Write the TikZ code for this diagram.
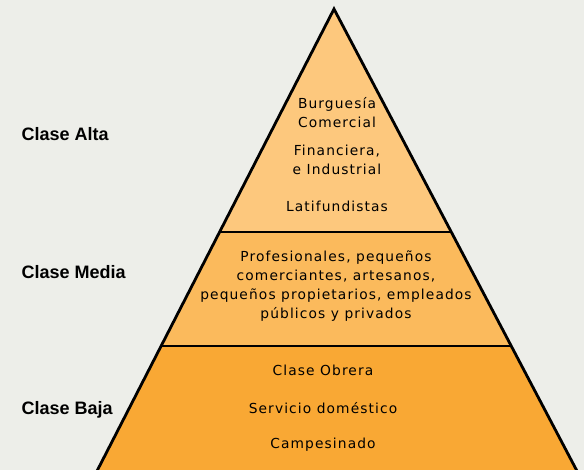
\documentclass[tikz,border=0pt]{standalone}
\usepackage{fontspec}
\setmainfont{Liberation Sans}
\newfontfamily\tierfont[LetterSpace=8]{DejaVu Sans}

\definecolor{bgcol}{RGB}{237,238,233}
\definecolor{altacol}{RGB}{253,200,125}
\definecolor{mediacol}{RGB}{251,186,92}
\definecolor{bajacol}{RGB}{249,168,52}

\tikzset{
  classlabel/.style={anchor=west, font=\fontsize{18}{21}\selectfont\bfseries},
  tiertext/.style={align=center, font=\tierfont\fontsize{13.8}{19}\selectfont}
}

\begin{document}
\begin{tikzpicture}
            [x=1pt, y=-1pt]
            % Background
            \fill[bgcol] (0,0) rectangle (584,470);
            \useasboundingbox (0,0) rectangle (584,470);

            % Corners of the pyramid
            \coordinate (apex) at (334,9);
            \coordinate (BL) at (97,471);
            \coordinate (BR) at (577,471);
            \coordinate (ML) at (219.4,232);
            \coordinate (MR) at (451,232);
            \coordinate (LL) at (160.7,346);
            \coordinate (LR) at (511,346);

            % Fill the tiers
            \fill[altacol] (apex) -- (ML) -- (MR) -- cycle;
            \fill[mediacol] (ML) -- (LL) -- (LR) -- (MR) -- cycle;
            \fill[bajacol] (LL) -- (BL) -- (BR) -- (LR) -- cycle;

            % Draw the outline
            \draw[line width=1.8pt] (ML) -- (MR);
            \draw[line width=1.8pt] (LL) -- (LR);
            \draw[line width=2.8pt, line join=miter] (BL) -- (apex) -- (BR);

            % Class names
            \node[classlabel] (alta) at (18,134) {Clase Alta};
            \node[classlabel] (media) at (18,272) {Clase Media};
            \node[classlabel] (baja) at (18,410) {Clase Baja};

            % Top tier
            \node[tiertext] (burg) at (337,113) {Burguesía\\Comercial};
            \node[tiertext] (fin) at (337,160) {Financiera,\\e Industrial};
            \node[tiertext] (lati) at (337,206) {Latifundistas};

            % Middle tier
            \node[tiertext] (prof) at (336,286) {Profesionales, pequeños\\comerciantes, artesanos,\\pequeños propietarios, empleados\\públicos y privados};

            % Bottom tier
            \node[tiertext] (obrera) at (323,370) {Clase Obrera};
            \node[tiertext] (servicio) at (323,408) {Servicio doméstico};
            \node[tiertext] (campe) at (323,445) {Campesinado};
\end{tikzpicture}
\end{document}
